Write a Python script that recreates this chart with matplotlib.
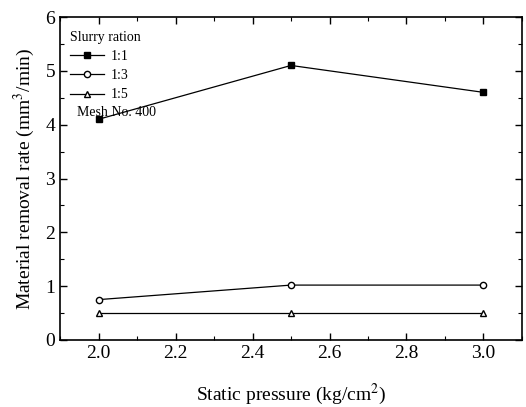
import matplotlib
matplotlib.use("Agg")
import matplotlib.pyplot as plt
from matplotlib.lines import Line2D
from matplotlib.ticker import MultipleLocator, FormatStrFormatter

plt.rcParams['font.family'] = ['Liberation Serif', 'DejaVu Serif']
plt.rcParams['mathtext.fontset'] = 'stix'

pressure = [2.0, 2.5, 3.0]
mrr_11 = [4.1, 5.1, 4.6]
mrr_13 = [0.75, 1.02, 1.02]
mrr_15 = [0.5, 0.5, 0.5]
labels = ['1:1', '1:3', '1:5']

fig = plt.figure(figsize=(5.26, 4.07), dpi=100)
ax = fig.add_axes([60/526, 1-340/407, 462/526, 323/407])

ms = 4.5
styles = [dict(marker='s', mfc='black'), dict(marker='o', mfc='white'), dict(marker='^', mfc='white')]
for y, st in zip([mrr_11, mrr_13, mrr_15], styles):
    ax.plot(pressure, y, color='black', lw=0.9, ms=ms, mec='black', mew=1.0, **st)

ax.set_xlim(1.9, 3.1)
ax.set_ylim(0, 6)
ax.xaxis.set_major_locator(MultipleLocator(0.2))
ax.xaxis.set_minor_locator(MultipleLocator(0.1))
ax.yaxis.set_major_locator(MultipleLocator(1))
ax.yaxis.set_minor_locator(MultipleLocator(0.5))
ax.xaxis.set_major_formatter(FormatStrFormatter('%.1f'))
ax.tick_params(which='both', direction='in', top=True, right=True, labelsize=14)
ax.tick_params(which='major', length=5, width=1)
ax.tick_params(which='minor', length=3, width=0.8)
for s in ax.spines.values():
    s.set_linewidth(1.2)

ax.set_xlabel('Static pressure (kg/cm$^2$)', fontsize=14, labelpad=14)
ax.set_ylabel('Material removal rate (mm$^3$/min)', fontsize=14, labelpad=6)

handles = [Line2D([], [], color='black', lw=0.9, ms=ms, mec='black', **st) for st in styles]
leg = ax.legend(handles, labels, title='Slurry ration', loc='upper left',
                bbox_to_anchor=(0.01, 0.975), frameon=False, fontsize=10,
                title_fontsize=10, handlelength=2.4, labelspacing=0.45,
                handletextpad=0.5, borderaxespad=0.2, borderpad=0.2)
leg._legend_box.align = 'left'
ax.text(0.037, 0.703, 'Mesh No. 400', transform=ax.transAxes, fontsize=10, va='center')

fig.savefig('out.png', dpi=100)
